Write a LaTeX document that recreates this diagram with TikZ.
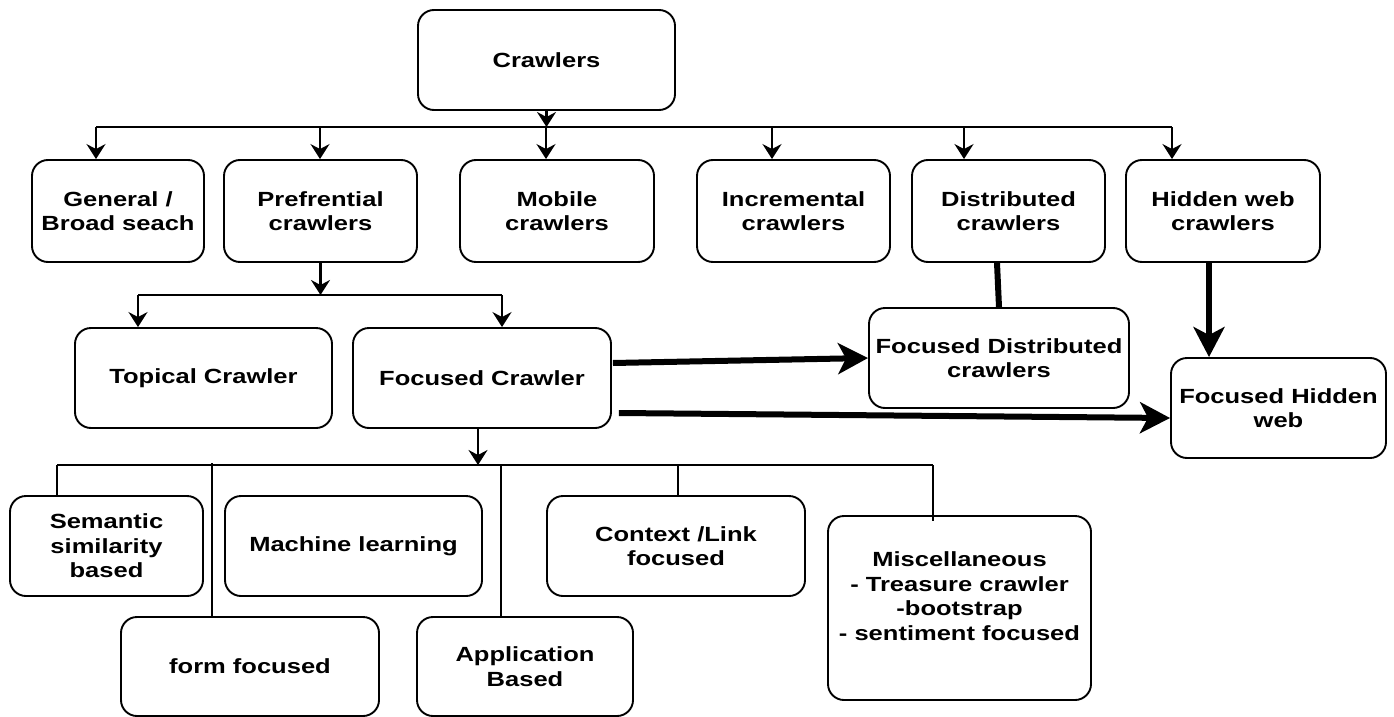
\documentclass[tikz,border=0pt]{standalone}
\usepackage{fontspec}
\setmainfont{Liberation Sans}[FakeStretch=1.245]
\usetikzlibrary{arrows.meta,calc}
\begin{document}
\begin{tikzpicture}[x=1pt,y=-1pt,
  box/.style={draw, line width=1.9pt, rounded corners=16pt, align=center, inner sep=0pt,
    font=\fontsize{20.5}{24.5}\selectfont\bfseries},
  txt/.style={align=center, inner sep=0pt, font=\fontsize{20.5}{24.5}\selectfont\bfseries},
  wh/.style 2 args={minimum width=#1pt, minimum height=#2pt},
  link/.style={line width=2.1pt},
  arr/.style={link, -{Stealth[length=15pt,width=19pt,inset=5pt]}},
  heavy/.style={line width=6pt},
  heavyarr/.style={heavy, -{Stealth[length=30pt,width=31pt,inset=8pt]}},
]
\useasboundingbox (0,0) rectangle (1394,717);

% root
\node[box, wh={257}{100}] (crawl) at (546.5,60) {Crawlers};

% first level
\node[box, wh={172}{102}] (gen)  at (118,211)    {General /\\Broad seach};
\node[box, wh={193}{102}] (pref) at (320.5,211)  {Prefrential\\crawlers};
\node[box, wh={194}{102}] (mob)  at (557,211)    {Mobile\\crawlers};
\node[box, wh={193}{102}] (incr) at (793.5,211)  {Incremental\\crawlers};
\node[box, wh={193}{102}] (dist) at (1008.5,211) {Distributed\\crawlers};
\node[box, wh={194}{102}] (hid)  at (1223,211)   {Hidden web\\crawlers};

% second level
\node[box, wh={257}{100}] (top)   at (203.5,378) {Topical Crawler};
\node[box, wh={258}{100}] (foc)   at (482,378)   {Focused Crawler};
\node[box, wh={260}{100}] (fdist) at (999,358)   {Focused Distributed\\crawlers};
\node[box, wh={215}{100}] (fhid)  at (1278.5,408) {Focused Hidden\\web};

% focused crawler families
\node[box, wh={193}{100}] (sem)  at (106.5,546) {Semantic\\similarity\\based};
\node[box, wh={257}{100}] (ml)   at (353.5,546) {Machine learning};
\node[box, wh={258}{100}] (ctx)  at (676,546)   {Context /Link\\focused};
\node[box, wh={258}{99}]  (form) at (250,666.5) {form focused};
\node[box, wh={216}{99}]  (app)  at (525,666.5) {Application\\Based};
\node[box, wh={263}{184}] (misc) at (959.5,608) {};
\node[txt] (misctext) at ($(misc.center)+(0,-12)$)
  {Miscellaneous\\- Treasure crawler\\-bootstrap\\- sentiment focused};

% crawler types bus
\coordinate (b1) at (96,127);
\coordinate (b2) at (320,127);
\coordinate (b3) at (546,127);
\coordinate (b4) at (772,127);
\coordinate (b5) at (964,127);
\coordinate (b6) at (1172,127);
\draw[arr] (crawl.south) -- (crawl.south |- b3);
\draw[link] (b1) -- (b6);
\draw[arr] (b1) -- (b1 |- gen.north);
\draw[arr] (b2) -- (b2 |- pref.north);
\draw[arr] (b3) -- (b3 |- mob.north);
\draw[arr] (b4) -- (b4 |- incr.north);
\draw[arr] (b5) -- (b5 |- dist.north);
\draw[arr] (b6) -- (b6 |- hid.north);

% preferential crawlers bus
\coordinate (p1) at (138,295);
\coordinate (p2) at (502,295);
\draw[arr] (pref.south) -- (pref.south |- p1);
\draw[link] (p1) -- (p2);
\draw[arr] (p1) -- (p1 |- top.north);
\draw[arr] (p2) -- (p2 |- foc.north);

% focused crawler bus
\coordinate (f0) at (57,465);
\coordinate (f1) at (212,463);
\coordinate (f2) at (501,465);
\coordinate (f3) at (678,465);
\coordinate (f4) at (933,465);
\coordinate (fa) at ($(foc.south)+(-4,0)$);
\draw[arr] (fa) -- (fa |- f0);
\draw[link] (f0) -- (f4);
\draw[link] (f0) -- (f0 |- sem.north);
\draw[link] (f1) -- (f1 |- form.north);
\draw[link] (f2) -- (f2 |- app.north);
\draw[link] (f3) -- (f3 |- ctx.north);
\draw[link] (f4) -- ($(f4 |- misc.north)+(0,6)$);

% focused variants
\draw[heavy] ($(dist.south)+(-11.5,0)$) -- (fdist.north);
\coordinate (h0) at ($(hid.south)+(-14,0)$);
\draw[heavyarr] (h0) -- (h0 |- fhid.north);
\draw[heavyarr] ($(foc.east)+(1,-15)$) -- (fdist.west);
\draw[heavyarr] ($(foc.east)+(7,35)$) -- ($(fhid.west)+(0,10)$);
\end{tikzpicture}
\end{document}
